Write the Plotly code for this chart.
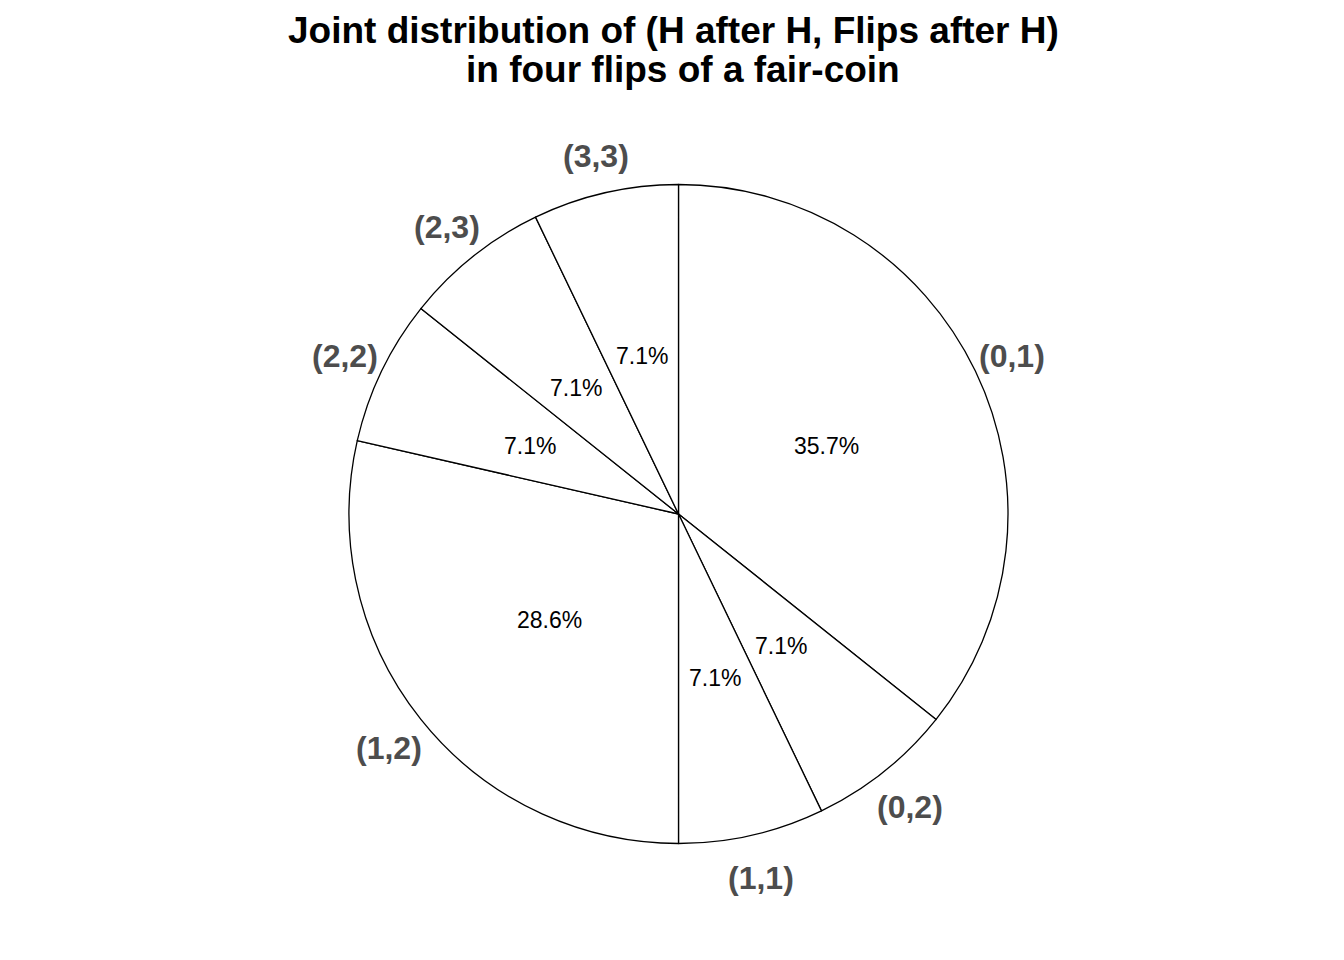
import math
import plotly.graph_objects as go

labels = ["(0,1)", "(0,2)", "(1,1)", "(1,2)", "(2,2)", "(2,3)", "(3,3)"]
counts = [5, 1, 1, 4, 1, 1, 1]
title_lines = ["Joint distribution of (H after H, Flips after H)", "in four flips of a fair-coin"]

W, H = 1344, 960
OFF = 8  # page body margin
cx, cy, R = 678.5 - OFF, 514.0 - OFF, 329.5  # pixel geometry of the pie (figure coords)
TXT_DY = 3  # visual centering tweak for annotation text

total = sum(counts)
pcts = [f"{100 * c / total:.1f}%" for c in counts]

fig = go.Figure(go.Pie(
    labels=labels, values=counts, sort=False, direction="clockwise", rotation=0,
    textinfo="none", hoverinfo="label+percent",
    marker=dict(colors=["white"] * len(labels), line=dict(color="black", width=1.3)),
    domain=dict(x=[(cx - R) / W, (cx + R) / W], y=[1 - (cy + R) / H, 1 - (cy - R) / H]),
    showlegend=False,
))

annots = []
cum = 0
for lab, c, p in zip(labels, counts, pcts):
    mid = (cum + c / 2) / total * 2 * math.pi
    cum += c
    s, co = math.sin(mid), math.cos(mid)
    for rf, txt, fnt in [(0.5, p, dict(family="Liberation Sans, Arial", size=23, color="black")),
                         (1.125, lab, dict(family="Liberation Sans, Arial", size=32, color="#4D4D4D"))]:
        px = cx + rf * R * s
        py = cy - rf * R * co + TXT_DY
        annots.append(dict(x=px / W, y=1 - py / H, xref="paper", yref="paper",
                           text=f"<b>{txt}</b>" if rf > 1 else txt, showarrow=False,
                           xanchor="center", yanchor="middle", font=fnt))

for t, tx, ty in zip(title_lines, [673.5, 682.5], [30, 70]):
    annots.append(dict(x=(tx - OFF) / W, y=1 - (ty - OFF) / H, xref="paper", yref="paper",
                       text=f"<b>{t}</b>", showarrow=False, xanchor="center", yanchor="middle",
                       font=dict(family="Liberation Sans, Arial", size=37, color="black")))

fig.update_layout(width=W, height=H, margin=dict(l=0, r=0, t=0, b=0),
                  paper_bgcolor="white", plot_bgcolor="white", annotations=annots)
fig.write_html("out.html")
